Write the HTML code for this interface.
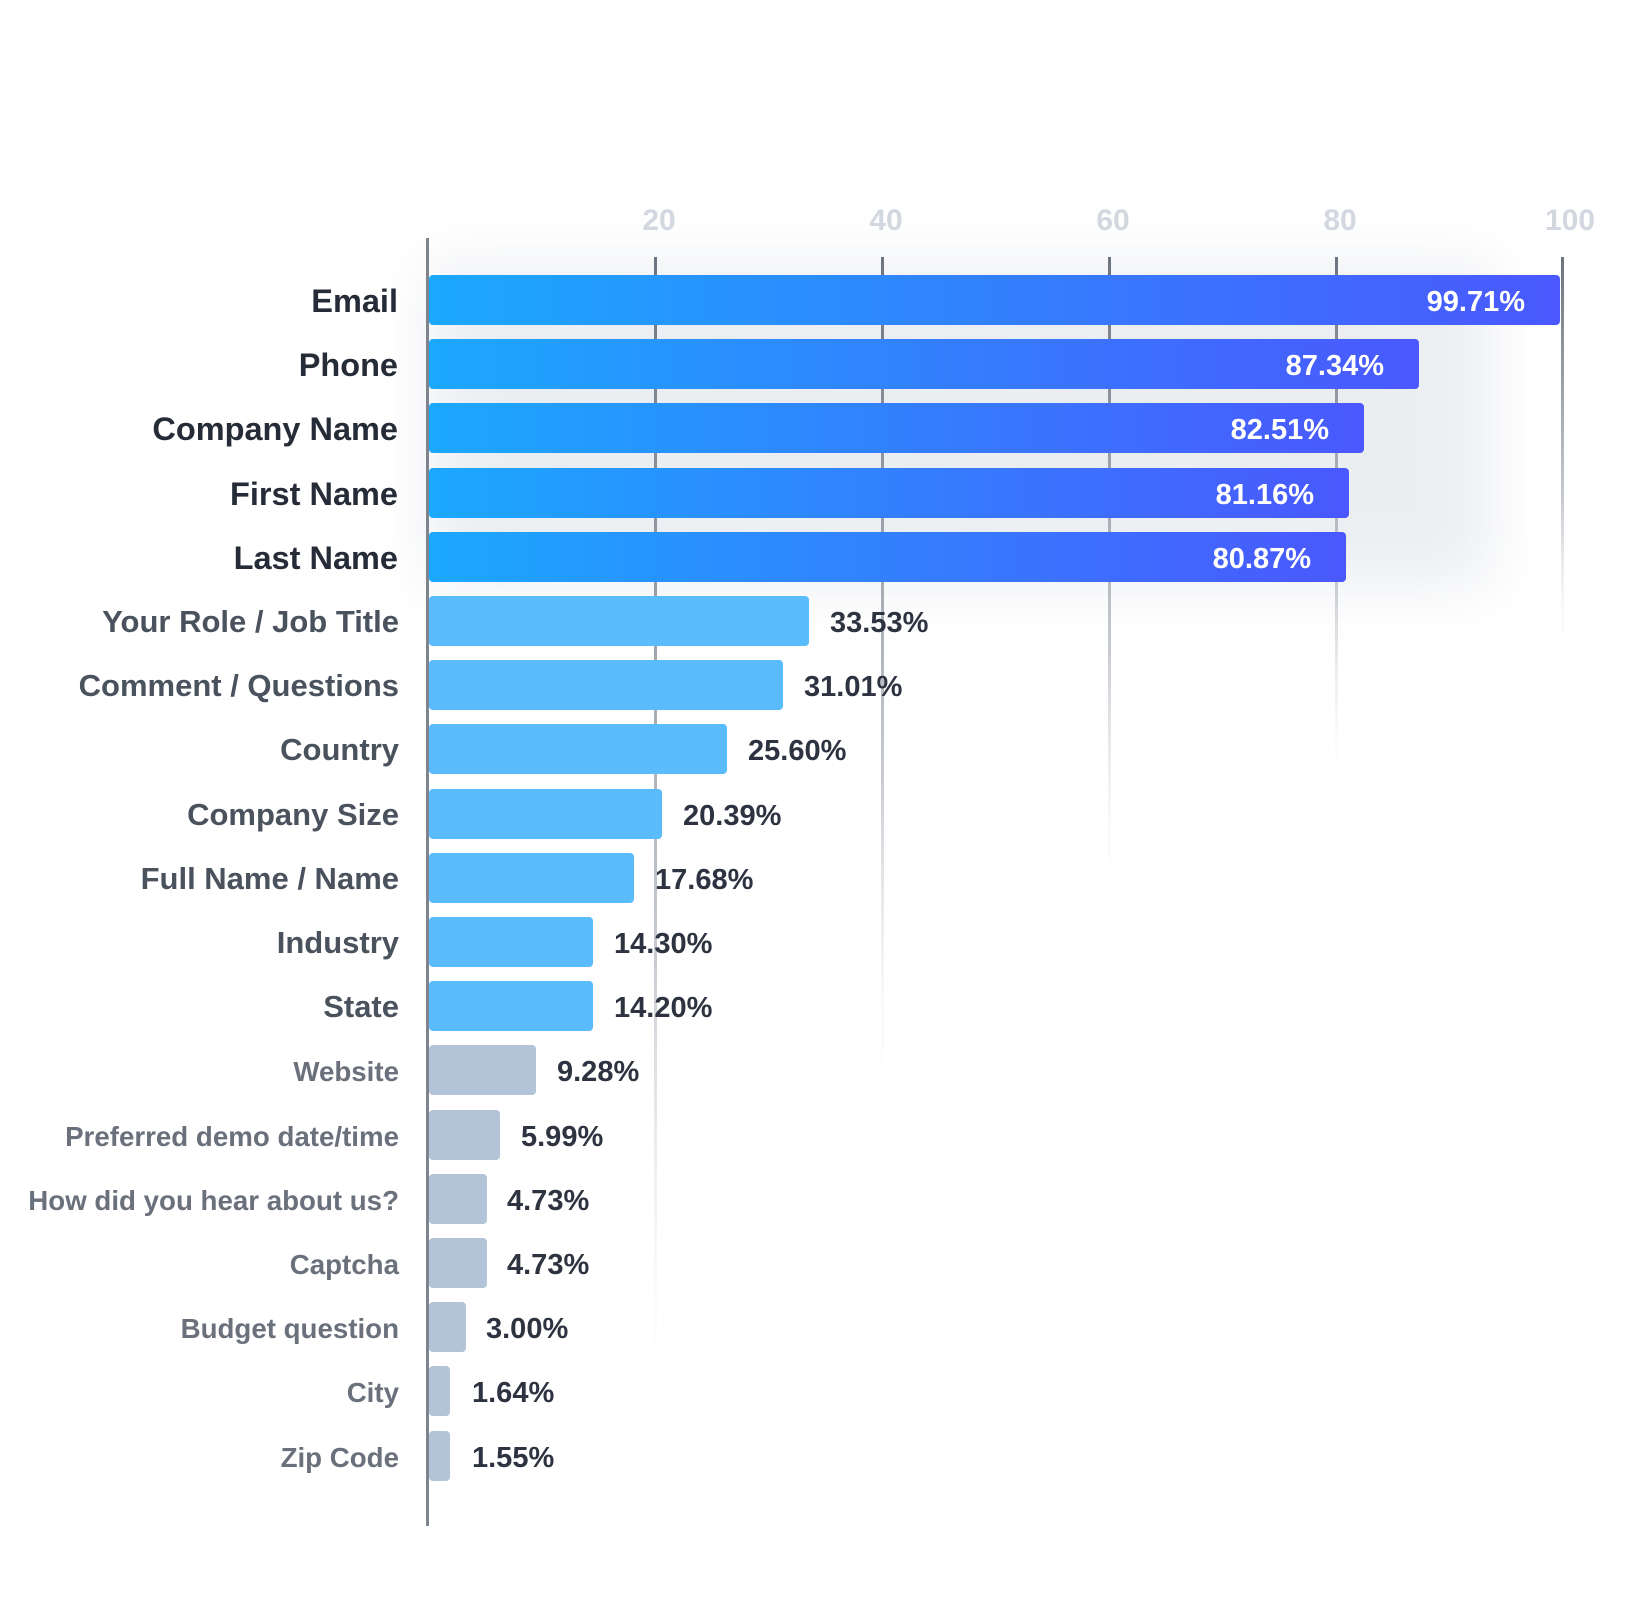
<!DOCTYPE html>
<html><head><meta charset="utf-8"><style>
html,body{margin:0;padding:0;background:#fff;}
svg{display:block;}
text{font-family:"Liberation Sans",Arial,sans-serif;font-weight:bold;}
</style></head><body>
<svg width="1626" height="1604" viewBox="0 0 1626 1604" xmlns="http://www.w3.org/2000/svg">
<defs>
<linearGradient id="bg" x1="0" x2="1" y1="0" y2="0">
<stop offset="0" stop-color="#1ba8ff"/><stop offset="1" stop-color="#4a58fd"/>
</linearGradient>
<filter id="blur" x="-20%" y="-20%" width="140%" height="140%"><feGaussianBlur stdDeviation="30"/></filter>
<linearGradient id="f20" x1="0" x2="0" y1="0" y2="1"><stop offset="0" stop-color="#6b7480"/><stop offset="0.6" stop-color="#c8ccd2"/><stop offset="1" stop-color="#fff" stop-opacity="0"/></linearGradient>
</defs>
<!-- shadow glow -->
<rect x="430" y="265" width="1060" height="320" fill="#dfe3e9" filter="url(#blur)" opacity="0.6"/>
<!-- gridlines -->
<rect x="654" y="257" width="3" height="1175" fill="url(#f20)"/>
<rect x="881" y="257" width="3" height="870" fill="url(#f20)"/>
<rect x="1108" y="257" width="3" height="660" fill="url(#f20)"/>
<rect x="1335" y="257" width="3" height="545" fill="url(#f20)"/>
<rect x="1561" y="257" width="3" height="410" fill="url(#f20)"/>
<!-- tick labels -->
<g fill="#d3d7df" font-size="30" text-anchor="middle">
<text x="659" y="230">20</text><text x="886" y="230">40</text><text x="1113" y="230">60</text><text x="1340" y="230">80</text><text x="1570" y="230">100</text>
</g>
<!-- axis -->
<rect x="426" y="238" width="3" height="1288" fill="#7d848e"/>
<g>
<rect x="429" y="275" width="1131" height="50" rx="4" fill="url(#bg)"/>
<rect x="429" y="339" width="990" height="50" rx="4" fill="url(#bg)"/>
<rect x="429" y="403" width="935" height="50" rx="4" fill="url(#bg)"/>
<rect x="429" y="468" width="920" height="50" rx="4" fill="url(#bg)"/>
<rect x="429" y="532" width="917" height="50" rx="4" fill="url(#bg)"/>
</g>
<g fill="#5abbfd">
<rect x="429" y="596" width="380" height="50" rx="4"/>
<rect x="429" y="660" width="354" height="50" rx="4"/>
<rect x="429" y="724" width="298" height="50" rx="4"/>
<rect x="429" y="789" width="233" height="50" rx="4"/>
<rect x="429" y="853" width="205" height="50" rx="4"/>
<rect x="429" y="917" width="164" height="50" rx="4"/>
<rect x="429" y="981" width="164" height="50" rx="4"/>
</g>
<g fill="#b4c4d8">
<rect x="429" y="1045" width="107" height="50" rx="4"/>
<rect x="429" y="1110" width="71" height="50" rx="4"/>
<rect x="429" y="1174" width="58" height="50" rx="4"/>
<rect x="429" y="1238" width="58" height="50" rx="4"/>
<rect x="429" y="1302" width="37" height="50" rx="4"/>
<rect x="429" y="1366" width="21" height="50" rx="4"/>
<rect x="429" y="1431" width="21" height="50" rx="4"/>
</g>
<g fill="#fff" font-size="29" text-anchor="end">
<text x="1525" y="311">99.71%</text>
<text x="1384" y="375">87.34%</text>
<text x="1329" y="439">82.51%</text>
<text x="1314" y="504">81.16%</text>
<text x="1311" y="568">80.87%</text>
</g>
<g fill="#2d3340" font-size="29">
<text x="830" y="632">33.53%</text>
<text x="804" y="696">31.01%</text>
<text x="748" y="760">25.60%</text>
<text x="683" y="825">20.39%</text>
<text x="655" y="889">17.68%</text>
<text x="614" y="953">14.30%</text>
<text x="614" y="1017">14.20%</text>
<text x="557" y="1081">9.28%</text>
<text x="521" y="1146">5.99%</text>
<text x="507" y="1210">4.73%</text>
<text x="507" y="1274">4.73%</text>
<text x="486" y="1338">3.00%</text>
<text x="472" y="1402">1.64%</text>
<text x="472" y="1467">1.55%</text>
</g>
<g font-size="32.5" text-anchor="end" fill="#252c37">
<text x="398" y="312">Email</text>
<text x="398" y="376">Phone</text>
<text x="398" y="440">Company Name</text>
<text x="398" y="505">First Name</text>
<text x="398" y="569">Last Name</text>
</g>
<g font-size="31" text-anchor="end" fill="#4a525e">
<text x="399" y="632">Your Role / Job Title</text>
<text x="399" y="696">Comment / Questions</text>
<text x="399" y="760">Country</text>
<text x="399" y="825">Company Size</text>
<text x="399" y="889">Full Name / Name</text>
<text x="399" y="953">Industry</text>
<text x="399" y="1017">State</text>
</g>
<g font-size="27.7" text-anchor="end" fill="#6a717c">
<text x="399" y="1081">Website</text>
<text x="399" y="1146">Preferred demo date/time</text>
<text x="399" y="1210">How did you hear about us?</text>
<text x="399" y="1274">Captcha</text>
<text x="399" y="1338">Budget question</text>
<text x="399" y="1402">City</text>
<text x="399" y="1467">Zip Code</text>
</g>
</svg>
</body></html>
